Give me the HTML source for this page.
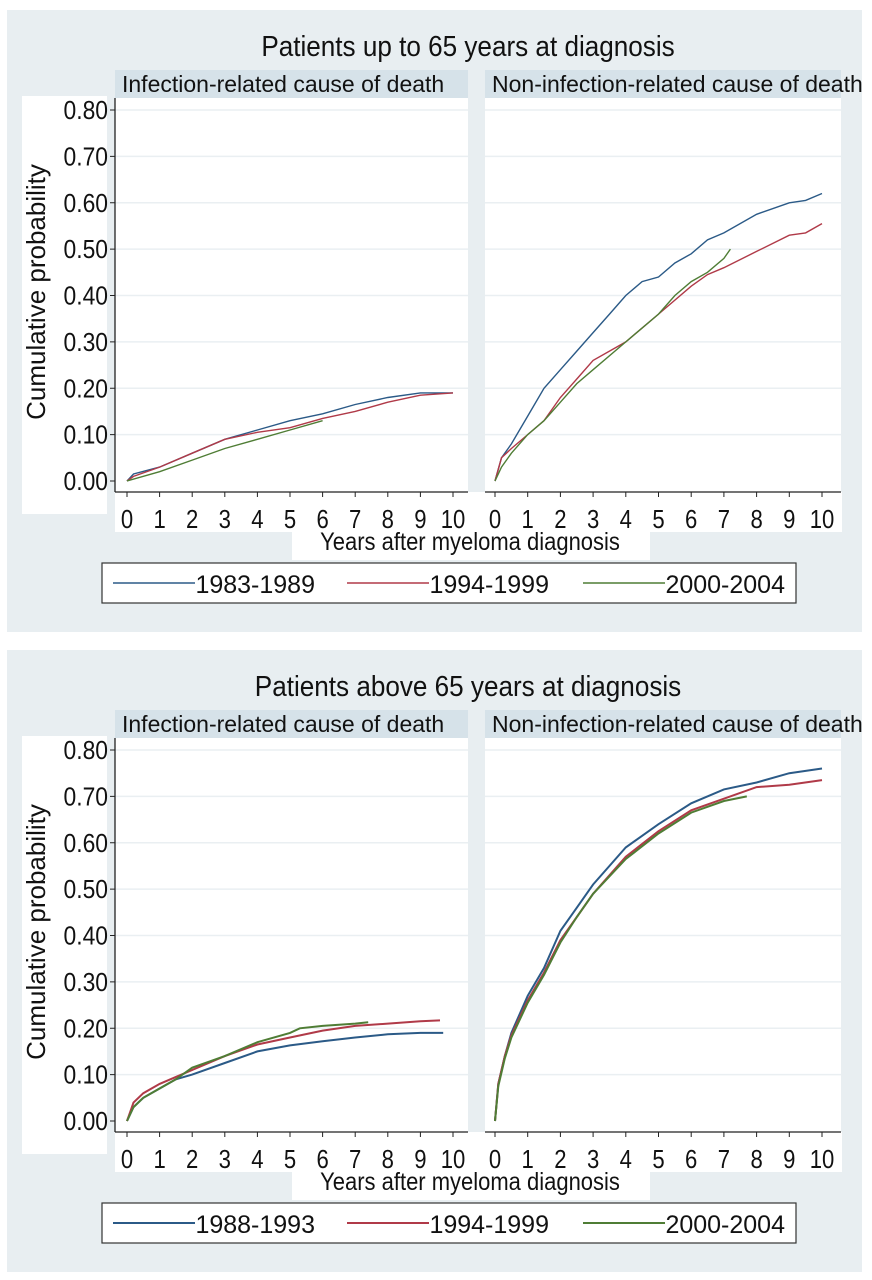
<!DOCTYPE html>
<html><head><meta charset="utf-8">
<style>
html,body{margin:0;padding:0;background:#fff;width:872px;height:1280px;overflow:hidden}
svg text{font-family:"Liberation Sans",sans-serif;fill:#111}
</style></head>
<body>
<svg id="chart" width="872" height="1280" viewBox="0 0 872 1280" xmlns="http://www.w3.org/2000/svg"></svg>
<script>
// ---- data ----
const years = [0,1,2,3,4,5,6,7,8,9,10];
const yTicks = [0,0.1,0.2,0.3,0.4,0.5,0.6,0.7,0.8];
const yTickLabels = ["0.00","0.10","0.20","0.30","0.40","0.50","0.60","0.70","0.80"];
const topLegend = ["1983-1989","1994-1999","2000-2004"];
const botLegend = ["1988-1993","1994-1999","2000-2004"];
// top-left (<=65, infection)
const tlBlueX=[0,0.2,1,2,3,4,5,6,7,8,9,10];
const tlBlueY=[0,0.015,0.03,0.06,0.09,0.11,0.13,0.145,0.165,0.18,0.19,0.19];
const tlRedX=[0,0.2,1,2,3,4,5,6,7,8,9,10];
const tlRedY=[0,0.01,0.03,0.06,0.09,0.105,0.115,0.135,0.15,0.17,0.185,0.19];
const tlGreenX=[0,1,2,3,4,5,6];
const tlGreenY=[0,0.02,0.045,0.07,0.09,0.11,0.13];
// top-right (<=65, non-infection)
const trBlueX=[0,0.2,0.5,1,1.5,2,2.5,3,3.5,4,4.5,5,5.5,6,6.5,7,8,9,9.5,10];
const trBlueY=[0,0.05,0.08,0.14,0.2,0.24,0.28,0.32,0.36,0.4,0.43,0.44,0.47,0.49,0.52,0.535,0.575,0.6,0.605,0.62];
const trRedX=[0,0.2,0.5,1,1.5,2,2.5,3,4,5,6,6.5,7,8,9,9.5,10];
const trRedY=[0,0.05,0.07,0.1,0.13,0.18,0.22,0.26,0.3,0.36,0.42,0.445,0.46,0.495,0.53,0.535,0.555];
const trGreenX=[0,0.2,0.5,1,1.5,2,2.5,3,4,5,5.5,6,6.5,7,7.2];
const trGreenY=[0,0.03,0.06,0.1,0.13,0.17,0.21,0.24,0.3,0.36,0.4,0.43,0.45,0.48,0.5];
// bottom-left (>65, infection)
const blBlueX=[0,0.2,0.5,1,1.5,2,3,4,5,6,7,8,9,9.7];
const blBlueY=[0,0.03,0.05,0.07,0.09,0.1,0.125,0.15,0.163,0.172,0.18,0.187,0.19,0.19];
const blRedX=[0,0.2,0.5,1,1.5,2,3,4,5,6,7,8,9,9.6];
const blRedY=[0,0.04,0.06,0.08,0.095,0.11,0.14,0.165,0.18,0.195,0.205,0.21,0.215,0.217];
const blGreenX=[0,0.2,0.5,1,1.5,2,3,4,5,5.3,6,7,7.4];
const blGreenY=[0,0.03,0.05,0.07,0.09,0.115,0.14,0.17,0.19,0.2,0.205,0.21,0.213];
// bottom-right (>65, non-infection)
const brBlueX=[0,0.1,0.3,0.5,1,1.5,2,2.5,3,3.5,4,5,6,7,8,9,10];
const brBlueY=[0,0.08,0.14,0.19,0.27,0.33,0.41,0.46,0.51,0.55,0.59,0.64,0.685,0.715,0.73,0.75,0.76];
const brRedX=[0,0.1,0.3,0.5,1,1.5,2,2.5,3,4,5,6,7,8,9,10];
const brRedY=[0,0.08,0.14,0.185,0.26,0.32,0.39,0.44,0.49,0.57,0.625,0.67,0.695,0.72,0.725,0.735];
const brGreenX=[0,0.1,0.3,0.5,1,1.5,2,2.5,3,4,5,6,7,7.7];
const brGreenY=[0,0.075,0.135,0.18,0.255,0.315,0.385,0.44,0.49,0.565,0.62,0.665,0.69,0.70];

const NS="http://www.w3.org/2000/svg";
const svg=document.getElementById('chart');
const COLORS=["#2b5a87","#b03a48","#4f7d35"];
function el(tag,attrs,parent){const e=document.createElementNS(NS,tag);for(const k in attrs)e.setAttribute(k,attrs[k]);(parent||svg).appendChild(e);return e;}
function txt(s,x,y,size,anchor,parent,sx){
  const t=el('text',{x:0,y:0,'font-size':size,'text-anchor':anchor||'middle',
    transform:'translate('+x+','+y+') scale('+(sx||1)+',1)'},parent);
  t.textContent=s;return t;}

function figure(off,title,legendLabels,series,lw){
  const g=el('g',{});
  
  
  el('rect',{x:7,y:off+10,width:855,height:622,fill:'#e8eef1'},g);
  const tt=txt(title,468,off+56,29,'middle',g,0.9);
  
  
  // white areas
  el('rect',{x:22,y:off+96,width:85,height:418,fill:'#fff'},g);
  el('rect',{x:115,y:off+492,width:727,height:40,fill:'#fff'},g);
  el('rect',{x:292,y:off+530,width:358,height:30,fill:'#fff'},g);
  const y0=off+481, yTop=off+110;
  const ys=v=>y0-(v/0.8)*(y0-yTop);
  const panels=[{L:115,R:468,x0:127,x1:453,head:'Infection-related cause of death',hx:122,name:'infection-panel'},
                {L:485,R:841,x0:495,x1:822,head:'Non-infection-related cause of death',hx:492,name:'non-infection-panel'}];
  panels.forEach((p,pi)=>{
    const pg=el('g',{},g);
    
    
    el('rect',{x:p.L,y:off+70,width:p.R-p.L,height:28,fill:'#d6e2e9'},pg);
    const ht=txt(p.head,p.hx,off+92,23,'start',pg,1);
    
    
    el('rect',{x:p.L,y:off+98,width:p.R-p.L,height:394,fill:'#fff'},pg);
    const xs=v=>p.x0+(v/10)*(p.x1-p.x0);
    yTicks.forEach((t,i)=>{
      if(i>0){const gl=el('line',{x1:p.L,x2:p.R,y1:ys(t),y2:ys(t),stroke:'#eaeff2','stroke-width':1.5},pg);
        }
    });
    el('line',{x1:p.L,x2:p.R,y1:off+492,y2:off+492,stroke:'#222','stroke-width':1.3},pg);
    years.forEach(yv=>{
      el('line',{x1:xs(yv),x2:xs(yv),y1:off+492,y2:off+497,stroke:'#222','stroke-width':1},pg);
      const lt=txt(String(yv),xs(yv),off+528,26,'middle',pg,0.85);
      
      
    });
    if(pi===0){
      el('line',{x1:p.L,x2:p.L,y1:off+98,y2:off+492,stroke:'#222','stroke-width':1.3},pg);
      yTicks.forEach((t,i)=>{
        el('line',{x1:p.L-5,x2:p.L,y1:ys(t),y2:ys(t),stroke:'#222','stroke-width':1},pg);
        const yl=txt(yTickLabels[i],p.L-7,ys(t)+9,26,'end',pg,0.88);
        
        
      });
    }
    series[pi].forEach((s,si)=>{
      let d='';
      for(let i=0;i<s[0].length;i++){d+=(i?'L':'M')+xs(s[0][i]).toFixed(1)+','+ys(s[1][i]).toFixed(1);}
      const path=el('path',{d:d,fill:'none',stroke:COLORS[si],'stroke-width':lw},pg);
      
      
    });
  });
  const ya=el('text',{x:0,y:0,'font-size':26,'text-anchor':'middle',transform:'translate(45,'+(off+292)+') rotate(-90)'},g);
  ya.textContent='Cumulative probability';
  
  
  const xa=txt('Years after myeloma diagnosis',470,off+550,25,'middle',g,0.88);
  
  
  const lg=el('g',{},g);
  
  
  el('rect',{x:102,y:off+563,width:694,height:40,fill:'#fff',stroke:'#333','stroke-width':1.2},lg);
  const lx=[113,347,583];
  legendLabels.forEach((lab,i)=>{
    const e=el('g',{},lg);
    
    
    el('line',{x1:lx[i],x2:lx[i]+82,y1:off+583,y2:off+583,stroke:COLORS[i],'stroke-width':lw},e);
    txt(lab,lx[i]+202,off+593,25,'end',e,1);
  });
}
figure(0,'Patients up to 65 years at diagnosis',topLegend,
  [[[tlBlueX,tlBlueY],[tlRedX,tlRedY],[tlGreenX,tlGreenY]],
   [[trBlueX,trBlueY],[trRedX,trRedY],[trGreenX,trGreenY]]],1.4);
figure(640,'Patients above 65 years at diagnosis',botLegend,
  [[[blBlueX,blBlueY],[blRedX,blRedY],[blGreenX,blGreenY]],
   [[brBlueX,brBlueY],[brRedX,brRedY],[brGreenX,brGreenY]]],2);
</script>
</body></html>
